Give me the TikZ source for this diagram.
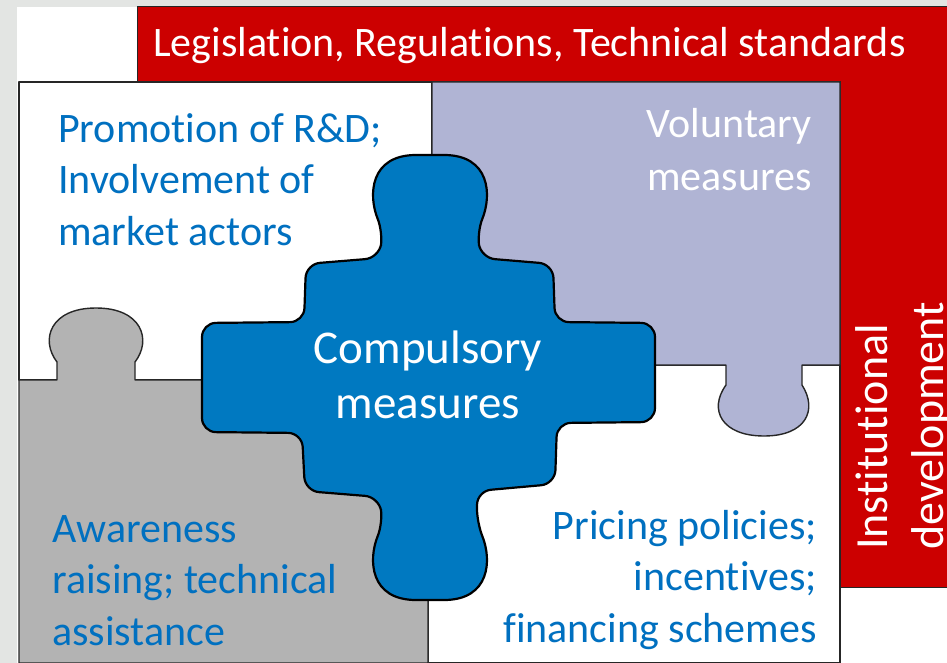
\documentclass[tikz,border=0pt]{standalone}
\usepackage{fontspec}
\setmainfont{Carlito}[Ligatures=NoCommon]
\usepackage{tikz}
\definecolor{bggray}{HTML}{E3E5E3}
\definecolor{lawred}{HTML}{CC0000}
\definecolor{voluntlav}{HTML}{B0B4D4}
\definecolor{awaregray}{HTML}{B3B3B3}
\definecolor{compblue}{HTML}{0079C1}
\definecolor{textblue}{HTML}{0070C0}

\begin{document}
\begin{tikzpicture}[x=1pt, y=-1pt, line join=round,
        piece/.style={draw=black!85, line width=1.4pt},
        bluetext/.style={text=textblue, inner sep=0pt, font=\fontsize{42}{51.5}\selectfont},
        whitetext/.style={text=white, inner sep=0pt, font=\fontsize{42}{52}\selectfont}]
        \useasboundingbox (0,0) rectangle (947,663);
        \fill[bggray] (0,0) rectangle (947,663);
        \fill[white] (17,7) rectangle (947,663);

        \draw[piece, fill=lawred, line width=1pt] (137,7) -- (947,7) -- (947,587) -- (840,587) -- (840,82) -- (137,82) -- cycle;

        \draw[piece, fill=white] (19,82) rectangle (432,380);
        \draw[piece, fill=white] (428,365) rectangle (840,663);

        \draw[piece, fill=awaregray] (19,380) -- (57,380) -- (57,362) .. controls (40,340) and (50,308) .. (96,308) .. controls (142,308) and (152,340) .. (135,362) -- (135,380) -- (428,380) -- (428,663) -- (19,663) -- cycle;

        \draw[piece, fill=voluntlav] (432,82) -- (840,82) -- (840,365) -- (802,365) -- (802,385) .. controls (818,410) and (806,436) .. (764,436) .. controls (722,436) and (708,410) .. (726,385) -- (726,365) -- (432,365) -- cycle;

        \draw[fill=compblue, draw=black, line width=2.2pt, rounded corners=14pt] (383,232) .. controls (368,195) and (370,155) .. (430,155) .. controls (490,155) and (492,195) .. (477,232) -- (481,258) -- (553,264) -- (555,322) -- (655,323) -- (655,422) -- (557,423) -- (555,484) -- (477,491) -- (477,523) .. controls (492,560) and (490,600) .. (430,600) .. controls (370,600) and (368,560) .. (383,523) -- (379,497) -- (305,491) -- (302,433) -- (202,432) -- (202,323) -- (304,322) -- (306,264) -- (379,258) -- cycle;

        \node[whitetext, anchor=base west] (laws) at (153,57) {Legislation, Regulations, Technical standards};
        \node[bluetext, anchor=base west, align=left] (promo) at (58,245) {Promotion of R\&D;\\Involvement of\\market actors};
        \node[whitetext, anchor=base east, align=right] (volunt) at (812,190) {Voluntary\\measures};
        \node[whitetext, anchor=base, align=center, font=\fontsize{47}{55}\selectfont] (compul) at (428,418) {Compulsory\\measures};
        \node[bluetext, anchor=base west, align=left] (aware) at (52,645) {Awareness\\raising; technical\\assistance};
        \node[bluetext, anchor=base east, align=right] (pricing) at (817,642) {Pricing policies;\\incentives;\\financing schemes};
        \node[whitetext, anchor=base west, align=left, rotate=90, font=\fontsize{46}{56}\selectfont] (instit) at (943,550) {Institutional\\development};
    \end{tikzpicture}
\end{document}
